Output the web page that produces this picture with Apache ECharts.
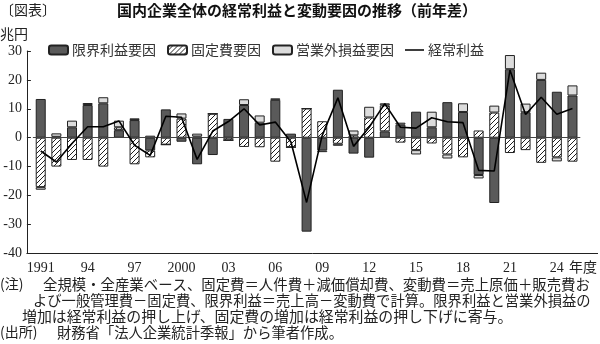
<!DOCTYPE html>
<html><head><meta charset="utf-8">
<script src="https://cdn.jsdelivr.net/npm/echarts@6/dist/echarts.min.js"></script>
<style>html,body{margin:0;padding:0;background:#fff}#c{width:600px;height:344px}</style>
</head><body><div id="c"></div>
<script>
const years = ['1991','1992','1993','1994','1995','1996','1997','1998','1999','2000','2001','2002','2003','2004','2005','2006','2007','2008','2009','2010','2011','2012','2013','2014','2015','2016','2017','2018','2019','2020','2021','2022','2023','2024','2025'];
const tickLabels = ['1991','94','97','2000','03','06','09','12','15','18','21','24'];
const marginalProfit = [13.4,0.3,3.6,11.3,11.9,2.6,6.1,-4.4,9.8,-1.4,-9.2,-6.0,6.5,11.3,5.2,13.1,1.4,-32.5,-4.4,16.6,-5.5,-6.9,2.2,4.5,9.0,3.6,12.3,8.9,-12.9,-22.6,23.7,8.8,20.0,15.9,14.6];
const fixedCost = [-17.1,-10.0,-7.7,-7.7,-10.0,1.0,-9.2,-2.4,-2.4,6.6,0.4,8.3,-0.9,-3.2,-3.3,-8.3,-3.3,10.1,5.7,-2.1,0.8,7.0,9.0,-1.7,-4.3,-2.0,-5.8,-6.8,2.5,8.7,-5.3,-4.3,-8.7,-6.8,-8.3];
const nonOperating = [-0.9,1.2,2.3,0.7,2.1,2.3,0.6,0.7,0,1.8,1.0,0,0,2.0,2.5,0.5,0,0,-0.6,-0.7,1.7,3.7,0.7,0.7,-1.5,5.4,-1.4,3.0,-1.2,2.4,4.9,3.0,2.5,-1.4,3.5];
const ordinaryProfit = [-4.6,-8.4,-2.0,3.8,3.8,5.8,-2.6,-6.1,7.4,7.1,-7.5,2.3,5.6,10.0,4.4,5.4,-1.5,-22.4,0.8,13.8,-3.0,3.6,11.8,3.6,3.3,6.9,5.5,5.2,-11.3,-11.5,23.4,8.0,14.0,8.1,10.1];
const seriesNames = ['限界利益要因','固定費要因','営業外損益要因','経常利益'];

const tile = document.createElement('canvas');
tile.width = 5; tile.height = 5;
const tc = tile.getContext('2d');
tc.fillStyle = '#fff'; tc.fillRect(0,0,5,5);
tc.strokeStyle = '#222'; tc.lineWidth = 1;
tc.beginPath();
tc.moveTo(-1,6); tc.lineTo(6,-1);
tc.moveTo(-1,1); tc.lineTo(1,-1);
tc.moveTo(4,6); tc.lineTo(6,4);
tc.stroke();

const serif = '"Liberation Serif", "Noto Sans CJK JP", serif';
const jp = '"Noto Sans CJK JP", sans-serif';
const chart = echarts.init(document.getElementById('c'), null, {renderer:'canvas'});
const barCommon = {type:'bar', stack:'f', barWidth:10};
chart.setOption({
  animation:false,
  grid:{left:32.9, right:19.7, top:51, bottom:90.7, containLabel:false},
  legend:{
    left:48, top:43, itemWidth:19, itemHeight:9, itemGap:11, padding:0,
    textStyle:{fontFamily:jp, fontSize:14, color:'#333', padding:[0,0,0,-1]},
    data:[seriesNames[0], seriesNames[1], seriesNames[2],
      {name:seriesNames[3], icon:'path://M0,0H20V1.6H0Z'}]
  },
  xAxis:{
    type:'category', data:years,
    axisLine:{show:false}, axisTick:{show:false},
    axisLabel:{interval:2, margin:8, fontFamily:serif, fontSize:14, color:'#222',
      formatter:(v,i)=> (i%3===0 ? tickLabels[i/3] : '')}
  },
  yAxis:{
    type:'value', min:-40, max:30, interval:10, offset:6,
    axisLine:{show:true, lineStyle:{color:'#222', width:1}},
    axisTick:{show:true, inside:true, length:4, lineStyle:{color:'#222'}},
    axisLabel:{margin:5, fontFamily:serif, fontSize:14, color:'#222'},
    splitLine:{show:false}
  },
  series:[
    Object.assign({}, barCommon, {name:seriesNames[0], data:marginalProfit, itemStyle:{color:'#5a5a5a', borderColor:'#222', borderWidth:1}}),
    Object.assign({}, barCommon, {name:seriesNames[1], data:fixedCost, itemStyle:{color:{image:tile, repeat:'repeat'}, borderColor:'#222', borderWidth:1}}),
    Object.assign({}, barCommon, {name:seriesNames[2], data:nonOperating, itemStyle:{color:'#dcdcdc', borderColor:'#222', borderWidth:1}}),
    {name:seriesNames[3], type:'line', data:ordinaryProfit, symbol:'none', z:5,
     lineStyle:{color:'#000', width:1.6}, itemStyle:{color:'#000'},
     markLine:{silent:true, symbol:'none', label:{show:false}, lineStyle:{color:'#444', width:1, type:'solid'}, data:[{yAxis:0}]}}
  ],
  graphic:[
    {type:'line', silent:true, shape:{x1:26.5, y1:253.5, x2:598, y2:253.5}, style:{stroke:'#222', lineWidth:1}},
    {type:'text', left:0, top:3, style:{text:'〔図表〕', font:'14px '+jp, fill:'#222'}},
    {type:'text', left:117, top:3, style:{text:'国内企業全体の経常利益と変動要因の推移（前年差）', font:'bold 15px '+jp, fill:'#111'}},
    {type:'text', left:0, top:27, style:{text:'兆円', font:'14px '+jp, fill:'#222'}},
    {type:'text', left:569, top:260, style:{text:'年度', font:'14px '+jp, fill:'#222'}},
    {type:'text', left:0, top:277, style:{text:'(注)', font:'14px '+jp, fill:'#222'}},
    {type:'text', left:43, top:277, style:{text:'全規模・全産業ベース、固定費＝人件費＋減価償却費、変動費＝売上原価＋販売費お', font:'14.4px '+jp, fill:'#222'}},
    {type:'text', left:33, top:293, style:{text:'よび一般管理費－固定費、限界利益＝売上高－変動費で計算。限界利益と営業外損益の', font:'14.3px '+jp, fill:'#222'}},
    {type:'text', left:22, top:309, style:{text:'増加は経常利益の押し上げ、固定費の増加は経常利益の押し下げに寄与。', font:'14.9px '+jp, fill:'#222'}},
    {type:'text', left:0, top:325, style:{text:'(出所)', font:'14px '+jp, fill:'#222'}},
    {type:'text', left:57, top:325, style:{text:'財務省「法人企業統計季報」から筆者作成。', font:'14.3px '+jp, fill:'#222'}}
  ]
});
</script></body></html>
